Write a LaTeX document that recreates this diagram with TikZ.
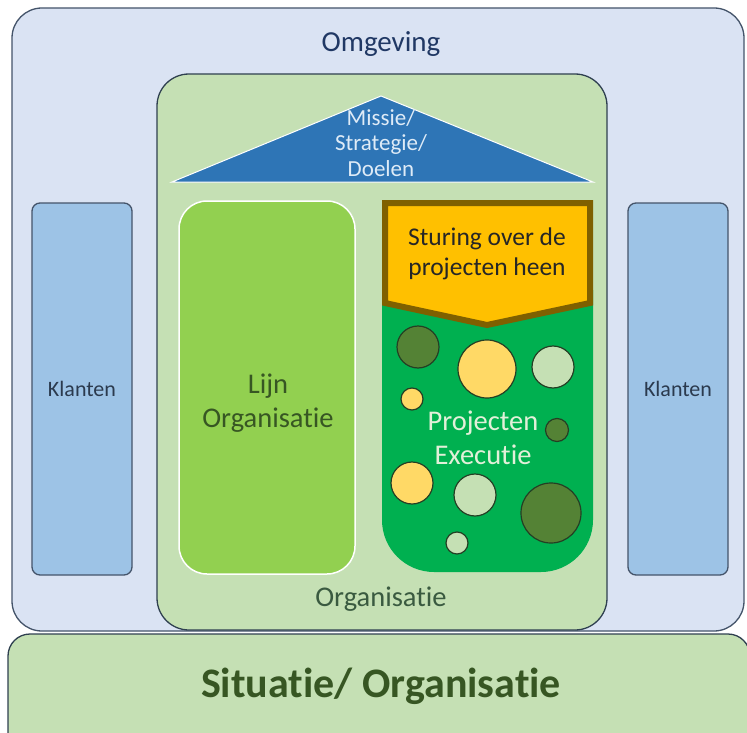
\documentclass[tikz,border=0pt]{standalone}
\usepackage{fontspec}
\setmainfont[Ligatures=NoCommon]{Carlito}
\definecolor{omgfill}{HTML}{DAE3F3}
\definecolor{omgline}{HTML}{44546A}
\definecolor{orgfill}{HTML}{C5E0B4}
\definecolor{orgline}{HTML}{2F4050}
\definecolor{klfill}{HTML}{9DC3E6}
\definecolor{kltext}{HTML}{2B3A4E}
\definecolor{lijnfill}{HTML}{92D050}
\definecolor{darkgreen}{HTML}{375623}
\definecolor{triblue}{HTML}{2E75B6}
\definecolor{tritext}{HTML}{DEEBF7}
\definecolor{gold}{HTML}{FFC000}
\definecolor{goldline}{HTML}{7F6000}
\definecolor{projgreen}{HTML}{00B050}
\definecolor{projtext}{HTML}{E2F0D9}
\definecolor{cdark}{HTML}{548235}
\definecolor{cyellow}{HTML}{FFD966}
\definecolor{clight}{HTML}{C5E0B4}
\definecolor{cline}{HTML}{243F24}
\definecolor{omgtext}{HTML}{203864}
\definecolor{orgtext}{HTML}{3A5A40}
\tikzset{
  panel/.style={rectangle, draw=omgline, line width=1.3pt, inner sep=0pt},
  klbox/.style={panel, fill=klfill, rounded corners=8pt, minimum width=100pt, minimum height=372pt},
  kltxt/.style={font=\fontsize{22}{26}\selectfont, text=kltext},
  bubble/.style={circle, draw=cline, line width=1.2pt, inner sep=0pt},
  bigtxt/.style={font=\fontsize{28.5}{34}\selectfont, align=center}
}
\begin{document}
\begin{tikzpicture}[x=1pt,y=-1pt]
\useasboundingbox (0,0) rectangle (747,733);
\clip (0,0) rectangle (747,733);
\fill[white] (0,0) rectangle (747,733);
% Omgeving
\node[panel, fill=omgfill, rounded corners=30pt, minimum width=732pt, minimum height=623pt] (omg) at (378,319.5) {};
\node[font=\fontsize{29}{34}\selectfont, text=omgtext] (omgt) at (381,44) {Omgeving};
% Situatie
\node[panel, draw=orgline, fill=orgfill, rounded corners=22pt, minimum width=742pt, minimum height=136pt] (sit) at (379,702) {};
\node[font=\fontsize{42}{48}\selectfont\bfseries, text=darkgreen] (sitt) at (381,686) {Situatie/ Organisatie};
% Organisatie
\node[panel, draw=orgline, fill=orgfill, rounded corners=32pt, minimum width=450pt, minimum height=556pt] (org) at (382,352) {};
\node[bigtxt, text=orgtext] (orgt) at (381,599) {Organisatie};
% Klanten
\node[klbox] (kl1) at (82,389) {};
\node[kltxt] (kl1t) at (82,389) {Klanten};
\node[klbox] (kl2) at (678,389) {};
\node[kltxt] (kl2t) at (678,389) {Klanten};
% Missie triangle
\draw[white, line width=1pt, fill=triblue] (172,182) -- (381,96) -- (593,182) -- cycle;
\node[font=\fontsize{23}{25.5}\selectfont, text=tritext, align=center] (missie) at (381,143) {Missie/\\Strategie/\\Doelen};
% Lijn organisatie
\node[rectangle, draw=white, line width=1.5pt, fill=lijnfill, rounded corners=28pt, minimum width=176pt, minimum height=373pt] (lijn) at (267,387.5) {};
\node[bigtxt, text=darkgreen] (lijnt) at (268,403) {Lijn\\Organisatie};
% Projecten
\fill[projgreen] (382,290) [rounded corners=52pt] -- (382,572) -- (593,572) [sharp corners] -- (593,290) -- cycle;
\node[bubble, fill=cdark, minimum size=42pt] (b1) at (418,347) {};
\node[bubble, fill=cyellow, minimum size=58pt] (b2) at (487,369) {};
\node[bubble, fill=clight, minimum size=42pt] (b3) at (553,367) {};
\node[bubble, fill=cyellow, minimum size=22pt] (b4) at (412,399) {};
\node[bubble, fill=cdark, minimum size=23pt] (b5) at (557,430) {};
\node[bubble, fill=cyellow, minimum size=42pt] (b6) at (412,483) {};
\node[bubble, fill=clight, minimum size=42pt] (b7) at (475,495) {};
\node[bubble, fill=cdark, minimum size=60pt] (b8) at (551,513) {};
\node[bubble, fill=clight, minimum size=22pt] (b9) at (457,543) {};
\node[bigtxt, text=projtext] (projt) at (483,438) {Projecten\\Executie};
% Banner
\draw[line width=6pt, draw=goldline, fill=gold, line join=miter] (385,203) -- (590,203) -- (590,303) -- (487,325) -- (385,303) -- cycle;
\node[font=\fontsize{25.5}{30}\selectfont, text=black!85, align=center] (sturing) at (487,254) {Sturing over de\\projecten heen};
\end{tikzpicture}
\end{document}
